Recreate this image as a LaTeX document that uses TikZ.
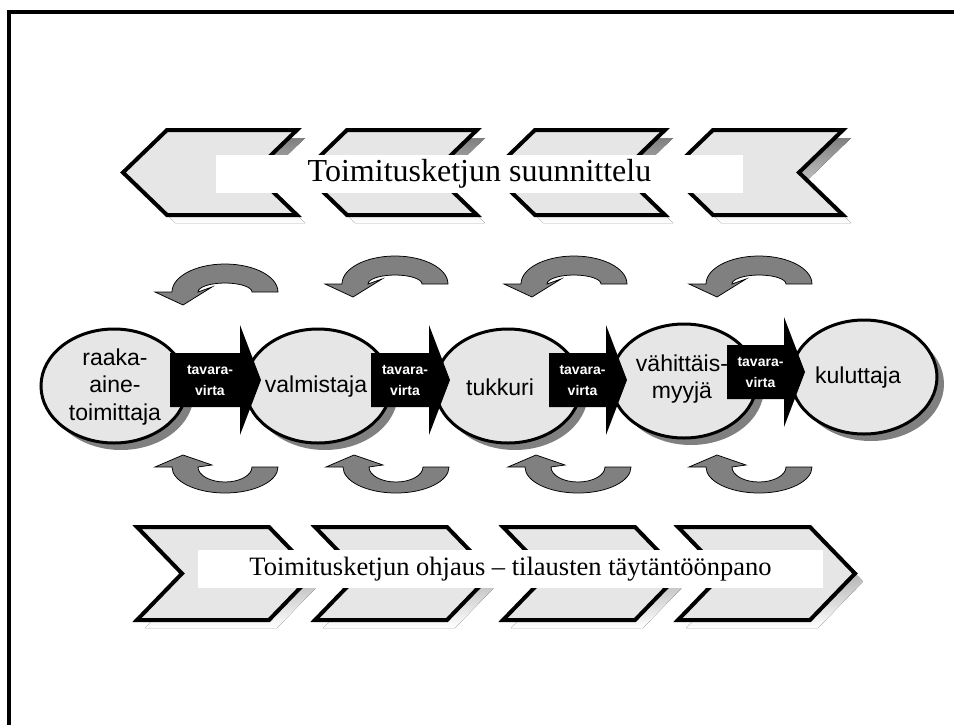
\documentclass[tikz,border=0pt]{standalone}
\usepackage{fontspec}
\setmainfont{Liberation Serif}
\newfontfamily\labelfont{Liberation Sans}
\usetikzlibrary{shapes.geometric}

\definecolor{panel}{HTML}{E6E6E6}
\definecolor{shade}{HTML}{808080}

\tikzset{
  outline/.style={draw=black, line width=4pt, line join=miter},
  % chevron pointing left (planning band), origin = top-left corner
  planchev/.pic={
    \fill[shade] (8,8) -- ++(130,0) -- ++(-44,42.5) -- ++(44,42.5) -- ++(-130,0) -- ++(-44,-42.5) -- cycle;
    \filldraw[fill=panel, outline] (0,0) -- ++(130,0) -- ++(-44,42.5) -- ++(44,42.5) -- ++(-130,0) -- ++(-44,-42.5) -- cycle;
  },
  % chevron pointing right (execution band), origin = top-left corner
  runchev/.pic={
    \fill[shade] (8,8) -- ++(132,0) -- ++(45,46.5) -- ++(-45,46.5) -- ++(-132,0) -- ++(45,-46.5) -- cycle;
    \filldraw[fill=panel, outline] (0,0) -- ++(132,0) -- ++(45,46.5) -- ++(-45,46.5) -- ++(-132,0) -- ++(45,-46.5) -- cycle;
  },
  % curved feedback arrow above the chain
  topturn/.pic={
    \filldraw[fill=shade, draw=black, line width=0.75pt]
      (53,0) arc[start angle=0, end angle=-180, x radius=53, y radius=28]
      -- (-70,0) -- (-42,13) -- (-13,-5) -- (-27,0)
      arc[start angle=180, end angle=360, x radius=27, y radius=9] -- cycle;
  },
  % curved feedback arrow below the chain
  bottomturn/.pic={
    \filldraw[fill=shade, draw=black, line width=0.75pt]
      (53,0) arc[start angle=0, end angle=180, x radius=53, y radius=26]
      -- (-70,0) -- (-42,-12) -- (-13,-2) -- (-27,0)
      arc[start angle=180, end angle=0, x radius=27, y radius=15] -- cycle;
  },
  stage/.style={ellipse, draw=black, fill=panel, line width=3pt,
    minimum width=146pt, minimum height=114pt, inner sep=0pt},
  stageshadow/.style={ellipse, fill=shade,
    minimum width=146pt, minimum height=114pt, inner sep=0pt},
  stagetext/.style={font=\labelfont\fontsize{23}{27.5}\selectfont,
    align=center, inner sep=0pt},
  flowtext/.style={font=\labelfont\bfseries\fontsize{14}{21}\selectfont,
    text=white, align=center, inner sep=0pt},
  bandtext/.style={fill=white, inner sep=0pt, minimum height=38pt},
}

% black goods-flow arrow: name, shaft left x, head base x, axis y
\newcommand\goodsflow[4]{%
  \fill (#2,#4-27) -- (#3,#4-27) -- (#3,#4-55) -- (#3+21,#4)
    -- (#3,#4+55) -- (#3,#4+27) -- (#2,#4+27) -- cycle;
  \node[flowtext] (#1) at ({(#2+#3)/2+5},#4) {tavara-\\virta};
}

\begin{document}
\begin{tikzpicture}[x=1pt, y=-1pt]
  \useasboundingbox (0,0) rectangle (954,724);

  % frame
  \draw[line width=4pt, line join=miter] (9,730) -- (9,12) -- (960,12);

  % planning band
  \pic at (167,130) {planchev};
  \pic at (347,130) {planchev};
  \pic at (535,130) {planchev};
  \pic at (713,130) {planchev};
  \node[bandtext, minimum width=527pt, font=\fontsize{32}{38}\selectfont]
    (plan) at (479.5,174) {Toimitusketjun suunnittelu};

  % execution band
  \pic at (137,527) {runchev};
  \pic at (315,527) {runchev};
  \pic at (503,527) {runchev};
  \pic at (678,527) {runchev};
  \node[bandtext, minimum width=625pt, font=\fontsize{26.5}{32}\selectfont]
    (exec) at (510.5,569) {Toimitusketjun ohjaus -- tilausten täytäntöönpano};

  % feedback arrows
  \pic at (225,292) {topturn};
  \pic at (395,284) {topturn};
  \pic at (574,284) {topturn};
  \pic at (759,284) {topturn};
  \pic at (225,467) {bottomturn};
  \pic at (396,467) {bottomturn};
  \pic at (578,467) {bottomturn};
  \pic at (759,467) {bottomturn};

  % chain members
  \node[stageshadow] (s1) at (121,393) {};
  \node[stageshadow] (s2) at (325,393) {};
  \node[stageshadow] (s3) at (515,393) {};
  \node[stageshadow] (s4) at (691,388) {};
  \node[stageshadow] (s5) at (871,384) {};
  \node[stage] (e1) at (114,386) {};
  \node[stage] (e2) at (318,386) {};
  \node[stage] (e3) at (508,386) {};
  \node[stage] (e4) at (684,381) {};
  \node[stage] (e5) at (864,377) {};

  \node[stagetext] (t1) at (115,387) {raaka-\\aine-\\toimittaja};
  \node[stagetext] (t2) at (316,387) {valmistaja};
  \node[stagetext] (t3) at (500,387) {tukkuri};
  \node[stagetext] (t4) at (682,379) {vähittäis-\\myyjä};
  \node[stagetext] (t5) at (858,378) {kuluttaja};

  % goods flow between members
  \goodsflow{f1}{170}{240}{380}
  \goodsflow{f2}{371}{429}{380}
  \goodsflow{f3}{549}{606}{380}
  \goodsflow{f4}{727}{784}{372}
\end{tikzpicture}
\end{document}
